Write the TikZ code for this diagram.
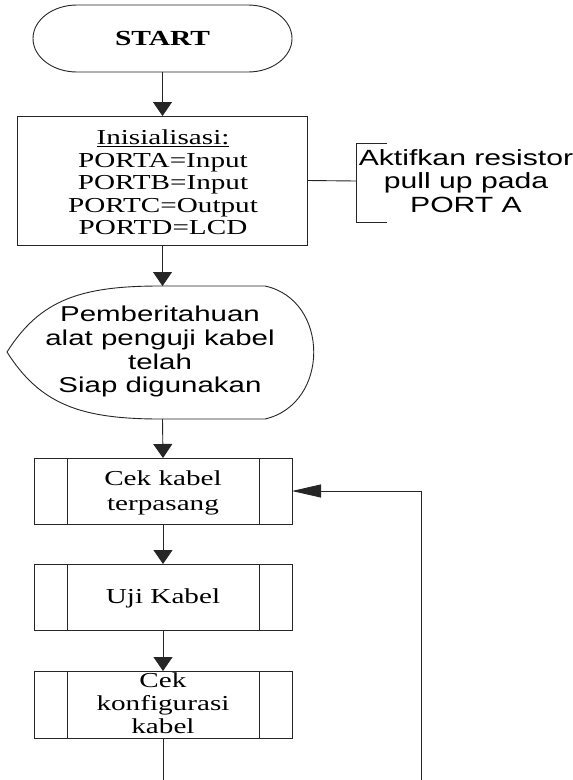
\documentclass[tikz,border=0pt]{standalone}
\usepackage{graphicx}
\usepackage{fontspec}
\setmainfont{Liberation Serif}
\newfontfamily\sansarial{Liberation Sans}
\usetikzlibrary{arrows.meta}

% wide text block: #1 font size, #2 line distance, #3 family switch, #4 lines
\newcommand{\widetext}[4]{%
  \scalebox{1.37}[1]{#3\fontsize{#1}{#2}\selectfont
    \begin{tabular}{@{}c@{}}#4\end{tabular}}}

\tikzset{
  line/.style={draw=black!85, line width=0.9pt},
  flow/.style={line, -{Triangle[length=14pt,width=19pt]}},
  back/.style={line, -{Triangle[length=29pt,width=13pt]}},
  frame/.style={rectangle, inner sep=0pt, outer sep=0pt},
  boxed/.style={frame, line},
  label/.style={inner sep=0pt, outer sep=0pt, text=black},
}

\begin{document}
\begin{tikzpicture}[x=1pt, y=-1pt]
  \useasboundingbox[fill=white] (0,0) rectangle (573,780);

  % ---- shapes (invisible frames used as connection anchors) ----
  \node[frame, minimum width=259, minimum height=67] (start) at (162.5,38.5) {};
  \node[boxed, minimum width=290, minimum height=129] (init) at (162.5,180.5) {};
  \node[frame, minimum width=300, minimum height=133] (disp) at (162.5,352.5) {};
  \node[boxed, minimum width=258, minimum height=66] (b1) at (163,491) {};
  \node[boxed, minimum width=258, minimum height=66] (b2) at (163,597) {};
  \node[boxed, minimum width=258, minimum height=67] (b3) at (163,704.5) {};

  % terminator outline
  \draw[line] (77,5) -- (248,5)
    .. controls (272.3,5) and (292,20) .. (292,38.5)
    .. controls (292,57) and (272.3,72) .. (248,72)
    -- (77,72)
    .. controls (52.7,72) and (33,57) .. (33,38.5)
    .. controls (33,20) and (52.7,5) .. (77,5) -- cycle;

  % display outline
  \draw[line] (7,352) .. controls (40,300) and (80,286) .. (160,286)
    -- (265,286) .. controls (330,300) and (330,404) .. (265,419)
    -- (160,419) .. controls (80,419) and (40,404) .. (7,352) -- cycle;

  % inner bars of the predefined-process boxes
  \foreach \b in {b1,b2,b3}{
    \draw[line] ([xshift=33]\b.north west) -- ([xshift=33]\b.south west);
    \draw[line] ([xshift=-33]\b.north east) -- ([xshift=-33]\b.south east);
  }

  % annotation bracket
  \coordinate (brk) at (356,181);
  \draw[line] (387,143) -- (356,143) -- (356,222) -- (387,222);

  % ---- labels ----
  \node[label] (lstart) at (162.5,41) {\widetext{21.5}{22.5}{\bfseries}{START}};
  \node[label] (linit) at (163,185) {\widetext{21.3}{22.5}{}{\underline{Inisialisasi:}\\
    PORTA=Input\\PORTB=Input\\PORTC=Output\\PORTD=LCD}};
  \node[label] (lnote) at (466,184) {\widetext{22}{23.5}{\sansarial}{Aktifkan resistor\\
    pull up pada\\PORT A}};
  \node[label] (ldisp) at (160,352.5) {\widetext{21.5}{23.7}{\sansarial}{Pemberitahuan\\
    alat penguji kabel\\telah\\Siap digunakan}};
  \node[label] (lb1) at (163,492.5) {\widetext{21.3}{25}{}{Cek kabel\\terpasang}};
  \node[label] (lb2) at (163,599) {\widetext{21.3}{23}{}{Uji Kabel}};
  \node[label] (lb3) at (163,706) {\widetext{21.3}{23}{}{Cek\\konfigurasi\\kabel}};

  % ---- connectors ----
  \draw[flow] (start.south) -- (init.north);
  \draw[line] (init.east) -- (brk);
  \draw[flow] (init.south) -- (disp.north);
  \draw[flow] (disp.south) -- (b1.north);
  \draw[flow] (b1.south) -- (b2.north);
  \draw[flow] (b2.south) -- (b3.north);

  \coordinate (loopL) at (163,782);
  \coordinate (loopR) at (421,782);
  \draw[line] (b3.south) -- (loopL);
  \draw[back] (loopR) |- (b1.east);
\end{tikzpicture}
\end{document}
